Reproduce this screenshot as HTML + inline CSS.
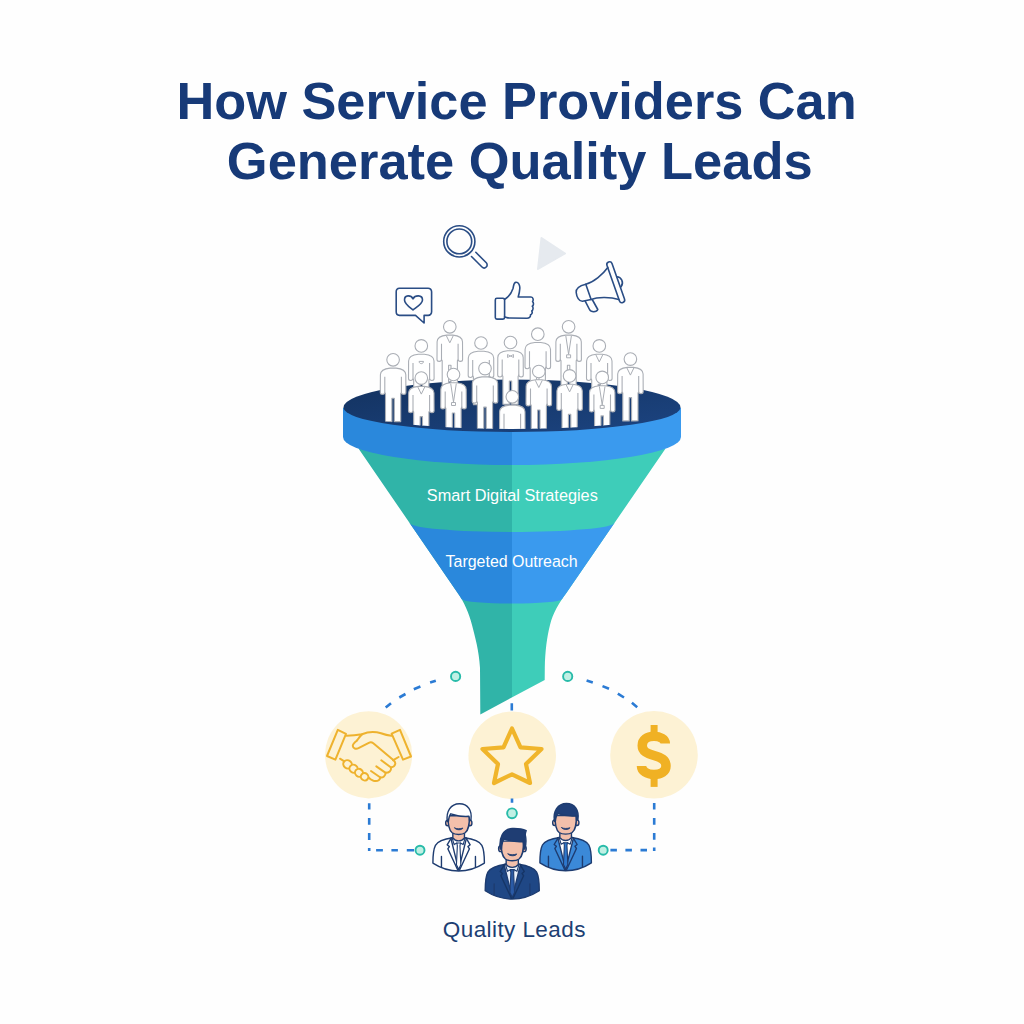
<!DOCTYPE html>
<html><head><meta charset="utf-8">
<style>
html,body{margin:0;padding:0;background:#fefefe;}
body{width:1024px;height:1024px;overflow:hidden;position:relative;}
svg{position:absolute;left:0;top:0;}
text{font-family:"Liberation Sans",sans-serif;}
</style></head>
<body>
<svg width="1024" height="1024" viewBox="0 0 1024 1024">
<defs>
  <clipPath id="cone">
    <path d="M358.5 448.5 L458 593.5 C464 602 469 613 472 625 C475 637 479 650 480 668 L480.3 714.4 L544.7 680 L544.8 668 C545.2 650 547 637 550 625 C553 613 559 603 566 593.5 L665.6 448.6 Z"/>
  </clipPath>
  <linearGradient id="rimGrad" x1="0" y1="0" x2="1" y2="1">
    <stop offset="0" stop-color="#13325f"/>
    <stop offset="1" stop-color="#1c4481"/>
  </linearGradient>
  <clipPath id="leftHalf"><rect x="0" y="0" width="512" height="1024"/></clipPath>
  <clipPath id="rightHalf"><rect x="512" y="0" width="512" height="1024"/></clipPath>
  <g id="person">
    <path d="M-3 8.3 C-8 8.8 -12.6 9.8 -12.7 15 L-12.8 32.6 C-12.8 35.2 -8.4 35.2 -8.3 32.6 L-7.6 34 L-7.6 61.8 L-1.2 61.8 L-1.2 38.5 L1.2 38.5 L1.2 61.8 L7.6 61.8 L7.6 34 L8.3 32.6 C8.4 35.2 12.8 35.2 12.8 32.6 L12.7 15 C12.6 9.8 8 8.8 3 8.3 Z" fill="#fff" stroke="#aaaeb5" stroke-width="1.1" stroke-linejoin="round"/>
    <path d="M-8.3 17 V32.6 M8.3 17 V32.6" fill="none" stroke="#aaaeb5" stroke-width="1.1"/>
    <circle cx="0" cy="0" r="6.3" fill="#fff" stroke="#aaaeb5" stroke-width="1.1"/>
  </g>
  <g id="personV">
    <use href="#person"/>
    <path d="M-3.5 8.8 L0 16 L3.5 8.8" fill="none" stroke="#aaaeb5" stroke-width="1"/>
  </g>
  <g id="personL">
    <use href="#person"/>
    <path d="M-2.8 9 L0 27.5 L2.8 9 M-2 28 h4 v3 h-4 z" fill="none" stroke="#aaaeb5" stroke-width="1"/>
  </g>
  <g id="personB">
    <use href="#person"/>
    <path d="M-2.2 15.5 C-2.2 18.5 2.2 18.5 2.2 15.5 M-2.2 15.5 H2.2" fill="none" stroke="#aaaeb5" stroke-width="1"/>
  </g>
  <g id="personT">
    <use href="#person"/>
    <path d="M-3 12 L0 13.5 L3 12 V15 L0 13.5 L-3 15 Z" fill="none" stroke="#aaaeb5" stroke-width="0.9"/>
  </g>
  <g id="bust">
    <path d="M-3 8.3 C-8 8.8 -12.6 9.8 -12.7 15 L-12.8 40 L12.8 40 L12.7 15 C12.6 9.8 8 8.8 3 8.3 Z" fill="#fff" stroke="#aaaeb5" stroke-width="1.1" stroke-linejoin="round"/>
    <path d="M-8.3 17 V40 M8.3 17 V40" fill="none" stroke="#aaaeb5" stroke-width="1.1"/>
    <circle cx="0" cy="0" r="6.3" fill="#fff" stroke="#aaaeb5" stroke-width="1.1"/>
  </g>
  <clipPath id="rimClip"><path d="M0 0 H1024 V407 H681 A169 22 0 0 1 343 407 H0 Z"/></clipPath>
</defs>

<!-- Title -->
<text x="176.5" y="119" font-size="52.3" font-weight="bold" fill="#173a78">How Service Providers Can</text>
<text x="226.85" y="179" font-size="52.45" font-weight="bold" fill="#173a78">Generate Quality Leads</text>

<!-- top icons -->
<g fill="none" stroke="#2a4d85" stroke-width="1.6" stroke-linecap="round" stroke-linejoin="round">
  <!-- magnifier -->
  <circle cx="459.3" cy="241.4" r="15.6"/>
  <circle cx="459.3" cy="241.4" r="12.4"/>
  <path d="M471.5 256.5 L482 267 A3 3 0 0 0 486.3 262.8 L475.8 252.3"/>
  <!-- chat heart -->
  <path d="M399.5 288.2 H428 A3.5 3.5 0 0 1 431.6 291.7 V311.8 A3.5 3.5 0 0 1 428 315.4 H424.1 V323 L415.5 315.4 H399.5 A3.5 3.5 0 0 1 396.2 311.8 V291.7 A3.5 3.5 0 0 1 399.5 288.2 Z"/>
  <path d="M413 298.8 C411 295 404.5 294.5 404.5 300 C404.5 304 410 307.5 413 310 C416 307.5 422.5 304 422.5 300 C422.5 294.5 415 295 413 298.8 Z"/>
  <!-- thumbs up -->
  <rect x="495.3" y="298.3" width="9.3" height="20.8" rx="1.6"/>
  <path d="M504.6 299.5 C508 297.5 511.5 293 513 288.5 C513.8 285 513.5 282.5 516 282.3 C518.5 282.2 520 285 519.8 288.5 C519.6 292 518.8 295 518.2 297 H531 C533.5 297 533.5 300.5 532.6 301.6 C534 302.8 533.6 305.5 532.3 306.3 C533.5 307.5 533.2 310 531.8 311 C532.7 312.5 532 314.5 530.5 314.8 C530.8 317 529 318.2 527 318.2 L510 318 C507 318 506 317.2 504.6 316.8"/>
  <!-- megaphone -->
  <path d="M607 265.4 L619.5 300.9 A2.65 2.65 0 0 0 624.5 299.1 L612 263.6 A2.65 2.65 0 0 0 607 265.4 Z"/>
  <path d="M607.8 267.5 C602.8 274.3 594 282 585.8 284.3"/>
  <path d="M591.1 299.5 C597 297 610 296.5 618.8 299.6"/>
  <path d="M585.8 284.3 C579 286 575.8 289 576.2 292.5 C576.6 297 579 301.5 582.5 301.3 L591.1 299.5 Z"/>
  <path d="M585.2 301.2 L589.5 309.5 C591 312.5 596.5 312.5 597.8 309.5 L592.5 300"/>
  <path d="M616.9 276.7 C621 277 624.5 282 621 286.9"/>
</g>
<!-- play triangle -->
<filter id="soft" x="-20%" y="-20%" width="140%" height="140%"><feGaussianBlur stdDeviation="0.7"/></filter>
<path d="M541.5 238 L565 253.5 L538 269 Z" fill="#e6eaef" stroke="#e6eaef" stroke-width="2" stroke-linejoin="round" filter="url(#soft)"/>

<!-- Funnel -->
<g>
  <!-- cone -->
  <g clip-path="url(#cone)">
    <g clip-path="url(#leftHalf)">
      <rect x="300" y="420" width="420" height="320" fill="#30b4a8"/>
      <path d="M300 523 L410 523 A102 9 0 0 0 614 523 L724 523 L724 599.5 L463 599.5 A49 4 0 0 0 561 599.5 L300 599.5 Z" fill="#2a88dc"/>
    </g>
    <g clip-path="url(#rightHalf)">
      <rect x="300" y="420" width="420" height="320" fill="#3ecdb9"/>
      <path d="M300 523 L410 523 A102 9 0 0 0 614 523 L724 523 L724 599.5 L561 599.5 A49 4 0 0 1 463 599.5 L300 599.5 Z" fill="#3a9aee"/>
    </g>
  </g>
  <!-- band -->
  <path d="M343 408 V437 A169 28 0 0 0 512 465 V408 Z" fill="#2a88dc"/>
  <path d="M681 408 V437 A169 28 0 0 1 512 465 V408 Z" fill="#3a9aee"/>
  <!-- rim -->
  <path d="M343.5 407.5 A168.5 28 0 0 1 680.5 407.5 A168.5 24.5 0 0 1 343.5 407.5 Z" fill="url(#rimGrad)"/>
</g>

<!-- People in funnel -->
<g clip-path="url(#rimClip)">
  <use href="#personV" x="449.8" y="326.8"/>
  <use href="#personL" x="568.6" y="326.8"/>
  <use href="#person" x="537.8" y="334.2"/>
  <use href="#personT" x="510.5" y="342.5"/>
  <use href="#person" x="481" y="343"/>
  <use href="#personB" x="421.3" y="345.9"/>
  <use href="#personV" x="599.3" y="345.9"/>
  <use href="#person" x="393.1" y="359.8"/>
  <use href="#personV" x="630.4" y="359.1"/>
  <use href="#person" x="485" y="368.6"/>
  <use href="#personV" x="538.8" y="371.5"/>
  <use href="#personL" x="453.5" y="374.5"/>
  <use href="#personV" x="569.6" y="375.9"/>
  <use href="#personL" x="602.2" y="377.4"/>
  <use href="#personV" x="421.3" y="378.1"/>
  <use href="#bust" x="512.3" y="396.8"/>
</g>

<!-- Funnel text -->
<text x="426.8" y="501.4" font-size="16.3" fill="#ffffff">Smart Digital Strategies</text>
<text x="445.6" y="566.6" font-size="15.95" fill="#ffffff">Targeted Outreach</text>

<!-- circles -->
<circle cx="368.6" cy="754.8" r="43.6" fill="#fdf2d4"/>
<circle cx="512.2" cy="755.3" r="43.8" fill="#fdf2d4"/>
<circle cx="654" cy="754.8" r="43.8" fill="#fdf2d4"/>

<!-- connectors -->
<path d="M385.7 707.6 L391 703.2 M399.3 697.5 L405.5 694 M413.8 689.2 L420.4 686.5 M430.1 682.6 L435.8 680.8 M586.6 680.6 L592.8 682.6 M602.5 686.1 L609 688.7 M617.8 693.6 L624 697.5 M631.9 702.8 L637.2 707.2 M369.2 803.2 L369.2 809.4 M369.2 817.9 L369.2 824.7 M369.2 832.9 L369.2 840.1 M369.2 848 L369.2 850.9 M376.1 850.2 L382.9 850.2 M391.4 850.2 L397.9 850.2 M406.8 850.2 L414 850.2 M654.2 802.9 L654.2 809.4 M654.2 817.9 L654.2 824.7 M654.2 832.9 L654.2 839.8 M654.2 847.6 L654.2 850.9 M610.4 850.1 L616.9 850.1 M625.4 850.1 L631.9 850.1 M640.5 850.1 L647 850.1 M511.8 703.2 L511.8 710.6 M512 798.6 L512 802.7" fill="none" stroke="#2b7bd4" stroke-width="2.6"/>
<g fill="#c0f0e4" stroke="#28bba9" stroke-width="1.9">
  <circle cx="455.6" cy="676.4" r="4.6"/>
  <circle cx="567.7" cy="676.4" r="4.6"/>
  <circle cx="420" cy="850.2" r="4.5"/>
  <circle cx="603.2" cy="850.2" r="4.5"/>
  <circle cx="512" cy="813.3" r="4.9"/>
</g>

<!-- star -->
<path d="M512 728.5 L520.5 747.3 L541.5 749 L526 764 L530 783 L512 774.3 L494 783 L498 764 L482.5 749 L503.5 747.3 Z" fill="none" stroke="#f0b52b" stroke-width="4.2" stroke-linejoin="round"/>
<!-- dollar -->
<path d="M665.3 743.6 C665.3 739 660 736.35 654 736.35 C647 736.35 642.25 740 642.25 745.5 C642.25 751.5 647 753.5 654 755.5 C661 757.5 666 759.5 666 766 C666 771.5 661 774.45 654 774.45 C647 774.45 641.5 771 641.5 766" fill="none" stroke="#f0b124" stroke-width="9.5"/>
<rect x="650.6" y="725" width="7" height="8" fill="#f0b124"/>
<rect x="650.6" y="778" width="7" height="8.9" fill="#f0b124"/>

<!-- handshake -->
<g fill="none" stroke="#eeb22e" stroke-width="2" stroke-linejoin="round" stroke-linecap="round">
  <path d="M337.8 729.8 L346 733.9 L335.4 759.6 L327 756 Z"/>
  <path d="M400 729.8 L391.6 733.6 L403 759.6 L411 756.5 Z"/>
  <path d="M346.5 735.8 C353 735.5 357 735 362 734.2 C368 731.8 375 731.5 381 733.3 C385 734.8 388 735.5 391.3 735.8"/>
  <path d="M357 740.5 C355 742 352.6 744 352.8 746 C353 748.5 356 749.3 358.5 748.2 L368.8 742.8 C370.5 742 372 742.3 373.3 743.3 L393 759.8"/>
  <path d="M362 734.4 C360 736 358.5 738.5 357 740.5"/>
  <path d="M398.6 757 L393.3 760.2"/>
  <path d="M340 758.7 L344.7 761.7"/>
  <path d="M393 759.8 C396.5 762 396 766.5 391 767.5 L381.3 760.3"/>
  <path d="M391 767.5 C391.5 771 389 772.8 385.7 772.8 L376.3 766.4"/>
  <path d="M385.7 772.8 C385.5 776 383 777.8 380.4 777.5 L371 771"/>
  <path d="M380.4 777.5 C379.5 780.5 376.5 781.5 373.5 780.8 C371 780 369.5 778.5 368.5 777.5"/>
  <ellipse cx="347.6" cy="764.4" rx="4.5" ry="4" transform="rotate(40 347.6 764.4)" fill="#fdf2d4"/>
  <ellipse cx="353.6" cy="768.8" rx="4.3" ry="3.9" transform="rotate(40 353.6 768.8)" fill="#fdf2d4"/>
  <ellipse cx="359" cy="772.8" rx="4.1" ry="3.8" transform="rotate(40 359 772.8)" fill="#fdf2d4"/>
  <ellipse cx="364.6" cy="776.8" rx="3.8" ry="3.6" transform="rotate(40 364.6 776.8)" fill="#fdf2d4"/>
</g>

<!-- bottom people -->
<g transform="translate(458.65 837.8) scale(1.0)" stroke="#1e3c70" stroke-width="1.40" stroke-linejoin="round" stroke-linecap="round">
  <path d="M-6 0 C-14 1.2 -20.5 2.8 -23.2 7.5 C-25.3 11.5 -25.75 18 -25.75 25.3 C-17 31 -8 33.2 0 33.2 C8 33.2 17 31 25.75 25.3 C25.75 18 25.3 11.5 23.2 7.5 C20.5 2.8 14 1.2 6 0 Z" fill="#ffffff"/>
  <path d="M-7.8 0.3 L0 32 L7.8 0.3 C4 -0.5 -4 -0.5 -7.8 0.3 Z" fill="#ffffff"/>
  <path d="M-1.8 5.2 L1.8 5.2 L1.3 8 L2.2 27 L0 31.5 L-2.2 27 L-1.3 8 Z" fill="#ffffff" stroke-width="1.12"/>
  <path d="M-6.5 0 L-4.5 6.8 L-1.8 5.2 M6.5 0 L4.5 6.8 L1.8 5.2" fill="none" stroke-width="1.12"/>
  <path d="M-7.5 0.4 L-11.5 7 L-9.3 8.8 L-10.8 11 L-0.8 32.5 M7.5 0.4 L11.5 7 L9.3 8.8 L10.8 11 L0.8 32.5" fill="none" stroke="#1e3c70"/>
  <path d="M-17.2 18.7 V29.3 M16.8 18.7 V29.3" fill="none"/>
  <path d="M-5.8 -5.5 L-5.8 0.2 C-3 4 3 4 5.8 0.2 L5.8 -5.5 Z" fill="#f3c0ab"/>
  <ellipse cx="-11" cy="-14.8" rx="2" ry="2.8" fill="#f3c0ab"/>
  <ellipse cx="11.3" cy="-14.8" rx="2" ry="2.8" fill="#f3c0ab"/>
  <path d="M-10.5 -22 C-10.8 -13 -10.2 -8 -6.5 -5 C-3.5 -2.8 3.5 -2.8 6.5 -5 C10.2 -8 10.8 -13 10.8 -22 Z" fill="#f3c0ab"/>
  <path d="M-11.3 -16.5 C-12.8 -26 -8 -34 0.8 -34 C9.5 -34 13.6 -27 12.3 -18 L10.8 -17.5 C10.8 -19.5 10.6 -20.5 10.3 -21.5 C4 -20.8 -3 -22.5 -7.8 -24 C-9.5 -22 -10 -19 -10.3 -16 Z" fill="#ffffff"/>
  <path d="M-4 -9.8 C-2 -8.8 2 -8.8 4.3 -9.8 C3.5 -7.4 -3 -7.4 -4 -9.8 Z" fill="#1e3c70" stroke-width="0.84"/>
</g>
<g transform="translate(565.65 837.5) scale(1.0)" stroke="#1e3c70" stroke-width="1.40" stroke-linejoin="round" stroke-linecap="round">
  <path d="M-6 0 C-14 1.2 -20.5 2.8 -23.2 7.5 C-25.3 11.5 -25.75 18 -25.75 25.3 C-17 31 -8 33.2 0 33.2 C8 33.2 17 31 25.75 25.3 C25.75 18 25.3 11.5 23.2 7.5 C20.5 2.8 14 1.2 6 0 Z" fill="#3b89d8"/>
  <path d="M-7.8 0.3 L0 32 L7.8 0.3 C4 -0.5 -4 -0.5 -7.8 0.3 Z" fill="#ffffff"/>
  <path d="M-1.8 5.2 L1.8 5.2 L1.3 8 L2.2 27 L0 31.5 L-2.2 27 L-1.3 8 Z" fill="#2f78cc" stroke-width="1.12"/>
  <path d="M-6.5 0 L-4.5 6.8 L-1.8 5.2 M6.5 0 L4.5 6.8 L1.8 5.2" fill="none" stroke-width="1.12"/>
  <path d="M-7.5 0.4 L-11.5 7 L-9.3 8.8 L-10.8 11 L-0.8 32.5 M7.5 0.4 L11.5 7 L9.3 8.8 L10.8 11 L0.8 32.5" fill="none" stroke="#1e3c70"/>
  <path d="M-17.2 18.7 V29.3 M16.8 18.7 V29.3" fill="none"/>
  <path d="M-5.8 -5.5 L-5.8 0.2 C-3 4 3 4 5.8 0.2 L5.8 -5.5 Z" fill="#f3c0ab"/>
  <ellipse cx="-11" cy="-14.8" rx="2" ry="2.8" fill="#f3c0ab"/>
  <ellipse cx="11.3" cy="-14.8" rx="2" ry="2.8" fill="#f3c0ab"/>
  <path d="M-10.5 -22 C-10.8 -13 -10.2 -8 -6.5 -5 C-3.5 -2.8 3.5 -2.8 6.5 -5 C10.2 -8 10.8 -13 10.8 -22 Z" fill="#f3c0ab"/>
  <path d="M-11.3 -16.5 C-12.8 -26 -8 -34 0.8 -34 C9.5 -34 13.6 -27 12.3 -18 L10.8 -17.5 C10.8 -19.5 10.6 -20.5 10.3 -21.5 C4 -20.8 -3 -22.5 -7.8 -24 C-9.5 -22 -10 -19 -10.3 -16 Z" fill="#1f3f78"/>
  <path d="M-4 -9.8 C-2 -8.8 2 -8.8 4.3 -9.8 C3.5 -7.4 -3 -7.4 -4 -9.8 Z" fill="#1e3c70" stroke-width="0.84"/>
</g>
<g transform="translate(512.25 864.2) scale(1.05)" stroke="#1e3c70" stroke-width="1.33" stroke-linejoin="round" stroke-linecap="round">
  <path d="M-6 0 C-14 1.2 -20.5 2.8 -23.2 7.5 C-25.3 11.5 -25.75 18 -25.75 25.3 C-17 31 -8 33.2 0 33.2 C8 33.2 17 31 25.75 25.3 C25.75 18 25.3 11.5 23.2 7.5 C20.5 2.8 14 1.2 6 0 Z" fill="#1f4785"/>
  <path d="M-7.8 0.3 L0 32 L7.8 0.3 C4 -0.5 -4 -0.5 -7.8 0.3 Z" fill="#eaf1fb"/>
  <path d="M-1.8 5.2 L1.8 5.2 L1.3 8 L2.2 27 L0 31.5 L-2.2 27 L-1.3 8 Z" fill="#2a5aa5" stroke-width="1.07"/>
  <path d="M-6.5 0 L-4.5 6.8 L-1.8 5.2 M6.5 0 L4.5 6.8 L1.8 5.2" fill="none" stroke-width="1.07"/>
  <path d="M-7.5 0.4 L-11.5 7 L-9.3 8.8 L-10.8 11 L-0.8 32.5 M7.5 0.4 L11.5 7 L9.3 8.8 L10.8 11 L0.8 32.5" fill="none" stroke="#163566"/>
  <path d="M-17.2 18.7 V29.3 M16.8 18.7 V29.3" fill="none"/>
  <path d="M-5.8 -5.5 L-5.8 0.2 C-3 4 3 4 5.8 0.2 L5.8 -5.5 Z" fill="#f3c0ab"/>
  <ellipse cx="-11" cy="-14.8" rx="2" ry="2.8" fill="#f3c0ab"/>
  <ellipse cx="11.3" cy="-14.8" rx="2" ry="2.8" fill="#f3c0ab"/>
  <path d="M-10.5 -22 C-10.8 -13 -10.2 -8 -6.5 -5 C-3.5 -2.8 3.5 -2.8 6.5 -5 C10.2 -8 10.8 -13 10.8 -22 Z" fill="#f3c0ab"/>
  <path d="M-11.5 -14.5 C-12.8 -25 -9 -33.5 0 -34 C6 -34.2 10 -33.5 13.3 -32 C12.5 -30 12 -29 12.6 -27 C13.4 -23 13 -18 12 -14.5 L10.9 -14.5 C10.9 -18 10.7 -20 10.3 -21.5 C4 -20.8 -3 -22.5 -7.8 -24 C-9.5 -22 -10 -18 -10.2 -14.5 Z" fill="#1f3d73"/>
  <path d="M-4 -9.8 C-2 -8.8 2 -8.8 4.3 -9.8 C3.5 -7.4 -3 -7.4 -4 -9.8 Z" fill="#1e3c70" stroke-width="0.80"/>
</g>

<text x="442.8" y="937" font-size="22.5" letter-spacing="0.42" fill="#1d3f73">Quality Leads</text>
</svg>
</body></html>
